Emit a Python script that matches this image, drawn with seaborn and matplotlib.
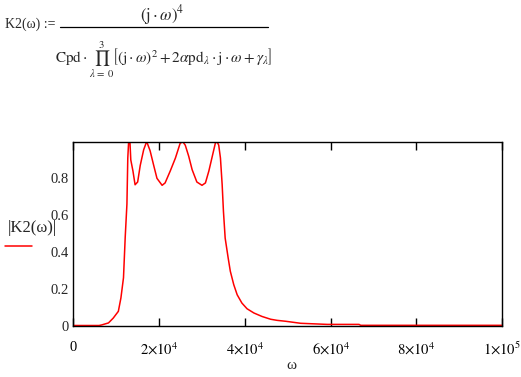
import pandas as pd
import seaborn as sns
import matplotlib.pyplot as plt
from matplotlib.lines import Line2D

omega = [0, 6000, 6600, 8200, 9300, 10500, 11100, 11700, 12100, 12500, 12700,
         12900, 13200, 13400, 13900, 14400, 15000, 15600, 16400, 17100, 17900,
         18700, 19500, 20700, 21400, 22600, 23800, 24900, 25500, 26100, 26900,
         27700, 28800, 30000, 30800, 31600, 32300, 33100, 33500, 33900, 34300,
         34700, 35000, 35400, 36100, 36600, 37400, 38200, 39300, 40500, 42100,
         44000, 46000, 47500, 49500, 53000, 59200, 66600, 67000, 80000, 100000]
k2_mag = [0, 0, 0.003, 0.014, 0.04, 0.077, 0.15, 0.26, 0.48, 0.66, 0.91,
          1.0, 1.0, 0.90, 0.84, 0.765, 0.78, 0.87, 0.955, 1.0, 0.95,
          0.874, 0.80, 0.762, 0.775, 0.84, 0.91, 0.99, 1.0, 0.98, 0.92,
          0.847, 0.78, 0.762, 0.775, 0.84, 0.91, 0.99, 1.0, 0.98, 0.91,
          0.765, 0.62, 0.475, 0.367, 0.295, 0.222, 0.167, 0.122, 0.091, 0.068,
          0.049, 0.034, 0.028, 0.023, 0.012, 0.006, 0.006, 0.001, 0.001, 0.001]

x_ticks = [0, 20000, 40000, 60000, 80000, 100000]
x_labels = ['0', r'$2{\times}10^{4}$', r'$4{\times}10^{4}$', r'$6{\times}10^{4}$',
            r'$8{\times}10^{4}$', r'$1{\times}10^{5}$']
y_ticks = [0, 0.2, 0.4, 0.6, 0.8]
y_labels = ['0', '0.2', '0.4', '0.6', '0.8']

sns.set_style('white')
plt.rcParams['font.family'] = ['Liberation Serif', 'DejaVu Serif']
plt.rcParams['mathtext.fontset'] = 'stix'

df = pd.DataFrame({'omega': omega, 'k2': k2_mag})

fig = plt.figure(figsize=(5.21, 3.77), dpi=100)
ax = fig.add_axes([0.1407, 0.1366, 0.8234, 0.488])
sns.lineplot(data=df, x='omega', y='k2', color='red', linewidth=1.1, ax=ax)

ax.set_xlim(0, 100000)
ax.set_ylim(0, 1.0)
ax.set_xticks(x_ticks)
ax.set_xticklabels(x_labels, fontsize=10.5)
ax.set_yticks(y_ticks)
ax.set_yticklabels(y_labels, fontsize=10.5)
ax.tick_params(axis='x', direction='in', length=6, width=1, top=True, bottom=True,
               pad=11, colors='black')
ax.tick_params(axis='y', length=0, pad=3)
for s in ax.spines.values():
    s.set_color('black')
    s.set_linewidth(1)
ax.set_xlabel('')
ax.set_ylabel('')

# axis labels in Mathcad style
fig.text(0.56, 0.012, 'ω', ha='center', va='bottom', fontsize=11)
fig.text(0.062, 0.395, '|K2(ω)|', ha='center', va='center', fontsize=12)
fig.add_artist(Line2D([0.01, 0.062], [0.347, 0.347], color='red', linewidth=1.1))

# formula on top
fig.text(0.01, 0.935, 'K2(ω) :=', ha='left', va='center', fontsize=10)
fig.text(0.312, 0.945, r'$(\mathrm{j}\cdot\omega)^{4}$', ha='center', va='baseline',
         fontsize=12)
fig.add_artist(Line2D([0.115, 0.515], [0.929, 0.929], color='black', linewidth=0.9))
fig.text(0.315, 0.895,
         r'$\mathrm{Cpd}\cdot\prod_{\lambda\,=\,0}^{3}\left[(\mathrm{j}\cdot\omega)^{2}'
         r'+2\alpha\mathrm{pd}_{\lambda}\cdot\mathrm{j}\cdot\omega+\gamma_{\lambda}\right]$',
         ha='center', va='top', fontsize=11)

fig.savefig('out.png', dpi=100)
